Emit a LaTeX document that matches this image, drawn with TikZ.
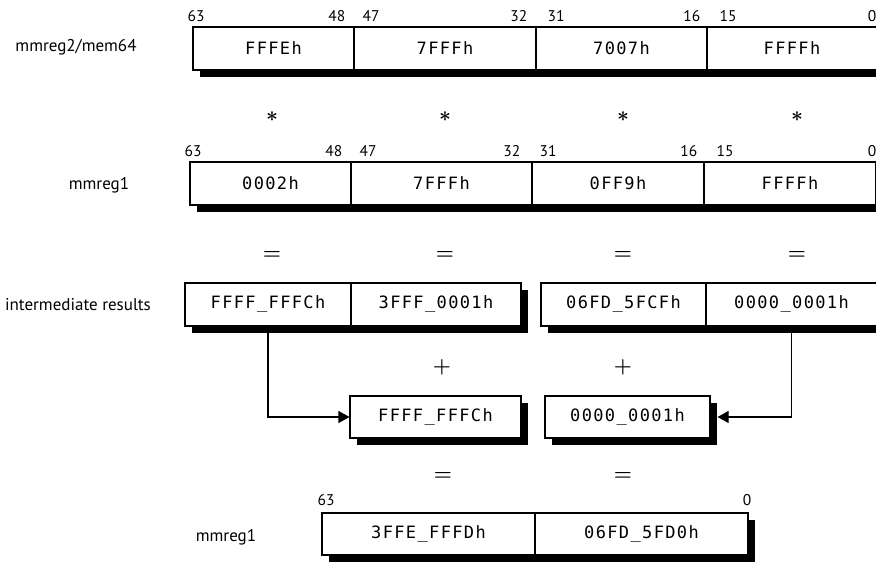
\documentclass[tikz,border=0pt]{standalone}
\usepackage{fontspec}
\setmainfont{PT Sans}
\newfontfamily\valfont[LetterSpace=8]{DejaVu Sans Mono}
\usetikzlibrary{arrows.meta,shadows}

\begin{document}
\begin{tikzpicture}[x=1pt,y=-1pt,
    field/.style={draw, line width=1.1pt, fill=white, rectangle, inner sep=0pt,
      minimum height=43pt, font=\valfont\fontsize{17}{17}\selectfont,
      general shadow={fill=black, shadow xshift=7pt, shadow yshift=-7pt}},
    bitnum/.style={inner sep=0pt, font=\fontsize{15.5}{16}\selectfont},
    reglabel/.style={font=\fontsize{17}{18}\selectfont},
    opsign/.style={font=\fontsize{22}{22}\selectfont\boldmath},
    feed/.style={line width=1.1pt, -{Triangle[length=11pt,width=12pt]}}]

    \useasboundingbox (0,0) rectangle (876,562);

    % Source operand
    \node[reglabel] (src) at (76,47) {mmreg2/mem64};
    \node[field, minimum width=161pt] (r1a) at (273.5,48.5) {FFFEh};
    \node[field, minimum width=182pt] (r1b) at (445,48.5) {7FFFh};
    \node[field, minimum width=171pt] (r1c) at (621.5,48.5) {7007h};
    \node[field, minimum width=170pt] (r1d) at (792,48.5) {FFFFh};

    % Destination operand
    \node[reglabel] (dst) at (99,185) {mmreg1};
    \node[field, minimum width=161pt] (r2a) at (270.5,183.5) {0002h};
    \node[field, minimum width=181pt] (r2b) at (441.5,183.5) {7FFFh};
    \node[field, minimum width=172pt] (r2c) at (618,183.5) {0FF9h};
    \node[field, minimum width=172pt] (r2d) at (790,183.5) {FFFFh};

    % Bit numbers above the fields
    \foreach \f/\hi/\hx/\lo/\lx in {r1a/63/-5/48/-9, r1b/47/9/32/-9, r1c/31/12/16/-7, r1d/15/13/0/-1,
                                   r2a/63/-5/48/-9, r2b/47/9/32/-12, r2c/31/8/16/-7, r2d/15/13/0/0} {
      \node[bitnum, anchor=south west] (\f-hi) at ([xshift=\hx pt, yshift=5pt]\f.north west) {\hi};
      \node[bitnum, anchor=south east] (\f-lo) at ([xshift=\lx pt, yshift=5pt]\f.north east) {\lo};
    }

    % Operators between the rows
    \foreach \x [count=\i] in {272,445,623,797} {
      \node[opsign] (mul\i) at (\x,117) {$\ast$};
      \node[opsign] (eq\i) at (\x,255) {$=$};
    }

    % Intermediate results
    \node[reglabel] (mid) at (78,305) {intermediate results};
    \node[field, minimum width=166pt] (r3a) at (268,304.5) {FFFF\_FFFCh};
    \node[field, minimum width=170pt] (r3b) at (436,304.5) {3FFF\_0001h};
    \node[field, minimum width=165pt] (r3c) at (623.5,304.5) {06FD\_5FCFh};
    \node[field, minimum width=171pt] (r3d) at (791.5,304.5) {0000\_0001h};

    \node[opsign] (add1) at (442,367) {$+$};
    \node[opsign] (add2) at (623,367) {$+$};

    % Moved halves
    \node[field, minimum width=171pt, minimum height=42pt] (r4a) at (435.5,417) {FFFF\_FFFCh};
    \node[field, minimum width=165pt, minimum height=42pt] (r4b) at (627.5,417) {0000\_0001h};
    \draw[feed] (r3a.south) |- (r4a.west);
    \draw[feed] (r3d.south) |- ([xshift=7pt]r4b.east);

    \node[opsign] (eq5) at (443,476) {$=$};
    \node[opsign] (eq6) at (623,476) {$=$};

    % Result
    \node[reglabel] (res) at (226,537) {mmreg1};
    \node[field, minimum width=213pt, minimum height=42pt] (r5a) at (428.5,534) {3FFE\_FFFDh};
    \node[field, minimum width=213pt, minimum height=42pt] (r5b) at (641.5,534) {06FD\_5FD0h};
    \node[bitnum, anchor=south west] (r5-hi) at ([xshift=-4pt, yshift=7pt]r5a.north west) {63};
    \node[bitnum, anchor=south east] (r5-lo) at ([xshift=3pt, yshift=7pt]r5b.north east) {0};

\end{tikzpicture}
\end{document}
